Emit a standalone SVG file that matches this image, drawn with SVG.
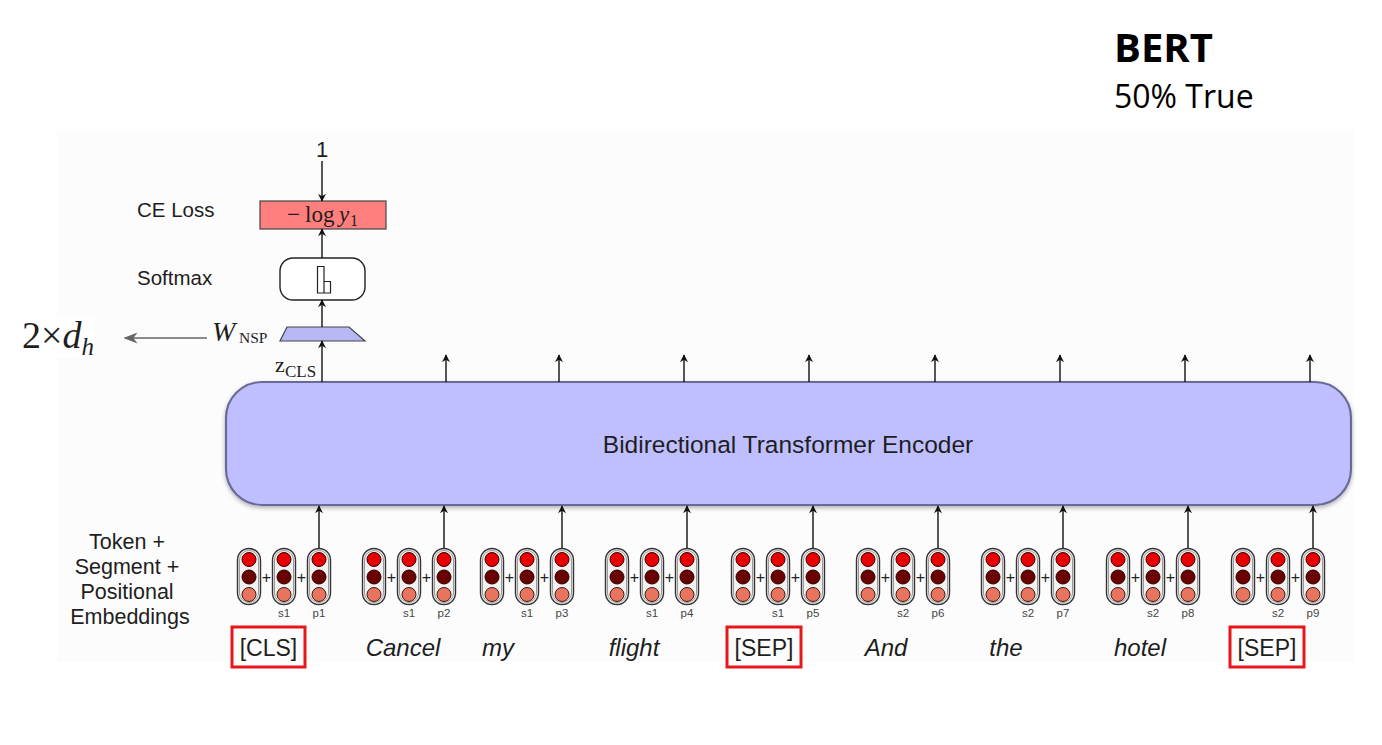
<svg xmlns="http://www.w3.org/2000/svg" xmlns:xlink="http://www.w3.org/1999/xlink" width="1382" height="745" viewBox="0 0 1382 745">
<style>
.sans{font-family:"Liberation Sans",Arial,sans-serif;fill:#1e1e1e}
.serif{font-family:"Liberation Serif","Times New Roman",serif;fill:#1e1e1e}
.lbl{font-size:20.5px}
.word{font-size:24px;font-style:italic;text-anchor:middle}
.tok{font-size:23px;text-anchor:middle}
.sp{font-size:11.5px;fill:#444;text-anchor:middle}
.plus{font-size:16px;text-anchor:middle;fill:#222}
.conn{stroke:#111;stroke-width:1.4;fill:none}
.redbox{fill:none;stroke:#e8161b;stroke-width:3}
.pillbg{fill:#f2f2f2;stroke:#333;stroke-width:1.4}
.pillin{fill:none;stroke:#9a9a9a;stroke-width:1}
.c1{fill:#e60000;stroke:#3a0000;stroke-width:1}
.c2{fill:#6a0000;stroke:#2a0000;stroke-width:1}
.c3{fill:#e8735f;stroke:#3a1a10;stroke-width:1}
</style>
<defs>
<marker id="ah" viewBox="0 0 10 10" refX="9" refY="5" markerWidth="8" markerHeight="8" markerUnits="userSpaceOnUse" orient="auto">
<path d="M0,0 L10,5 L0,10 L3,5 z" fill="#111"/>
</marker>
<marker id="ahg" viewBox="0 0 10 10" refX="9" refY="5" markerWidth="14" markerHeight="14" markerUnits="userSpaceOnUse" orient="auto">
<path d="M0,1 L10,5 L0,9 L3,5 z" fill="#666"/>
</marker>
<filter id="sh" x="-5%" y="-10%" width="110%" height="130%">
<feDropShadow dx="0" dy="2" stdDeviation="2" flood-color="#000" flood-opacity="0.3"/>
</filter>
<g id="pill">
<rect class="pillbg" x="-11.5" y="-28.5" width="23" height="56" rx="11.5"/>
<rect class="pillin" x="-9.5" y="-26.5" width="19" height="52" rx="9.5"/>
<circle class="c1" cx="0" cy="-17.5" r="7"/>
<circle class="c2" cx="0" cy="0" r="7"/>
<circle class="c3" cx="0" cy="17.5" r="7"/>
</g>
<g id="emb">
<use xlink:href="#pill" x="-70" y="0"/>
<use xlink:href="#pill" x="-35" y="0"/>
<use xlink:href="#pill" x="0" y="0"/>
<text class="plus sans" x="-52.5" y="5.5">+</text>
<text class="plus sans" x="-17.5" y="5.5">+</text>
</g>
</defs>

<rect x="0" y="0" width="1382" height="745" fill="#ffffff"/>
<rect id="panel" x="57" y="131" width="1297" height="531" fill="#fcfcfc"/>
<rect x="0" y="317" width="95" height="41" fill="#ffffff"/>

<g id="title">
<text x="1114" y="62" style="font-family:'Open Sans','Liberation Sans',sans-serif;font-weight:bold;font-size:40px" fill="#000">BERT</text>
<text x="1114" y="108" style="font-family:'Open Sans','Liberation Sans',sans-serif;font-size:32px" fill="#000">50% True</text>
</g>

<g id="encoder">
<rect x="226" y="382" width="1125" height="123" rx="36" fill="#bfbfff" stroke="#6b6b98" stroke-width="2.2" filter="url(#sh)"/>
<text class="sans" x="788" y="453" font-size="24.5" text-anchor="middle">Bidirectional Transformer Encoder</text>
</g>

<g id="ce-loss">
<text class="sans lbl" x="137" y="217">CE Loss</text>
<rect x="260" y="201" width="126" height="28" fill="#ff7f7f" stroke="#444" stroke-width="1.2"/>
<text class="serif" y="222" font-size="23"><tspan x="287">−</tspan><tspan x="305">log</tspan><tspan x="339" font-style="italic">y</tspan><tspan x="350" y="226" font-size="16">1</tspan></text>
</g>

<g id="softmax">
<text class="sans lbl" x="137" y="285">Softmax</text>
<rect x="280" y="258" width="85" height="42" rx="13" fill="#ffffff" stroke="#222" stroke-width="1.4"/>
<path d="M317.5,293 V266.5 H324 V293 Z M324,281.5 H330.5 V293 H324" fill="none" stroke="#222" stroke-width="1.2"/>
</g>

<g id="wnsp">
<polygon points="287,327 349,327 365,341 280,341" fill="#b8b8f4" stroke="#444" stroke-width="1.2"/>
<text class="serif" y="341" font-size="28"><tspan x="212" font-style="italic">W</tspan><tspan x="239" y="343" font-size="15.5">NSP</tspan></text>
</g>

<g id="dh">
<text class="serif" y="348" font-size="38"><tspan x="22">2×</tspan><tspan font-style="italic">d</tspan><tspan y="355" font-size="25" font-style="italic">h</tspan></text>
</g>

<g id="zcls">
<text class="serif" y="372" font-size="22"><tspan x="275">z</tspan><tspan x="285" y="377" font-size="17">CLS</tspan></text>
</g>

<g id="target">
<text class="sans" x="322" y="157" font-size="22" text-anchor="middle">1</text>
</g>

<g id="emb-label">
<text class="sans" font-size="21.5" text-anchor="middle">
<tspan x="130" y="549">Token +</tspan>
<tspan x="130" y="574">Segment +</tspan>
<tspan x="130" y="599">Positional</tspan>
<tspan x="130" y="624">Embeddings</tspan>
</text>
</g>

<g id="emb1"><use xlink:href="#emb" x="319" y="577"/><text class="sp sans" x="284" y="617">s1</text><text class="sp sans" x="319" y="617">p1</text></g>
<g id="emb2"><use xlink:href="#emb" x="444" y="577"/><text class="sp sans" x="409" y="617">s1</text><text class="sp sans" x="444" y="617">p2</text></g>
<g id="emb3"><use xlink:href="#emb" x="562" y="577"/><text class="sp sans" x="527" y="617">s1</text><text class="sp sans" x="562" y="617">p3</text></g>
<g id="emb4"><use xlink:href="#emb" x="687" y="577"/><text class="sp sans" x="652" y="617">s1</text><text class="sp sans" x="687" y="617">p4</text></g>
<g id="emb5"><use xlink:href="#emb" x="813" y="577"/><text class="sp sans" x="778" y="617">s1</text><text class="sp sans" x="813" y="617">p5</text></g>
<g id="emb6"><use xlink:href="#emb" x="938" y="577"/><text class="sp sans" x="903" y="617">s2</text><text class="sp sans" x="938" y="617">p6</text></g>
<g id="emb7"><use xlink:href="#emb" x="1063" y="577"/><text class="sp sans" x="1028" y="617">s2</text><text class="sp sans" x="1063" y="617">p7</text></g>
<g id="emb8"><use xlink:href="#emb" x="1188" y="577"/><text class="sp sans" x="1153" y="617">s2</text><text class="sp sans" x="1188" y="617">p8</text></g>
<g id="emb9"><use xlink:href="#emb" x="1313" y="577"/><text class="sp sans" x="1278" y="617">s2</text><text class="sp sans" x="1313" y="617">p9</text></g>

<g id="tokens">
<g id="tok-cls"><rect class="redbox" x="232" y="627" width="73" height="40"/><text class="sans tok" x="268.5" y="656">[CLS]</text></g>
<text class="sans word" x="403" y="656">Cancel</text>
<text class="sans word" x="498" y="656">my</text>
<text class="sans word" x="634" y="656">flight</text>
<g id="tok-sep1"><rect class="redbox" x="727" y="627" width="74" height="40"/><text class="sans tok" x="764" y="656">[SEP]</text></g>
<text class="sans word" x="886" y="656">And</text>
<text class="sans word" x="1006" y="656">the</text>
<text class="sans word" x="1140" y="656">hotel</text>
<g id="tok-sep2"><rect class="redbox" x="1230" y="627" width="74" height="40"/><text class="sans tok" x="1267" y="656">[SEP]</text></g>
</g>

<g id="connectors">
<line class="conn" x1="322" y1="161" x2="322" y2="201" marker-end="url(#ah)"/>
<line class="conn" x1="322" y1="258" x2="322" y2="229" marker-end="url(#ah)"/>
<line class="conn" x1="322" y1="327" x2="322" y2="300" marker-end="url(#ah)"/>
<line class="conn" x1="322" y1="382" x2="322" y2="341" marker-end="url(#ah)"/>
<line x1="207" y1="338" x2="125" y2="338" stroke="#666" stroke-width="1.6" marker-end="url(#ahg)"/>
<line class="conn" x1="446" y1="382" x2="446" y2="355" marker-end="url(#ah)"/>
<line class="conn" x1="559" y1="382" x2="559" y2="355" marker-end="url(#ah)"/>
<line class="conn" x1="684" y1="382" x2="684" y2="355" marker-end="url(#ah)"/>
<line class="conn" x1="809" y1="382" x2="809" y2="355" marker-end="url(#ah)"/>
<line class="conn" x1="935" y1="382" x2="935" y2="355" marker-end="url(#ah)"/>
<line class="conn" x1="1060" y1="382" x2="1060" y2="355" marker-end="url(#ah)"/>
<line class="conn" x1="1185" y1="382" x2="1185" y2="355" marker-end="url(#ah)"/>
<line class="conn" x1="1310" y1="382" x2="1310" y2="355" marker-end="url(#ah)"/>
<line class="conn" x1="319" y1="548" x2="319" y2="506" marker-end="url(#ah)"/>
<line class="conn" x1="444" y1="548" x2="444" y2="506" marker-end="url(#ah)"/>
<line class="conn" x1="562" y1="548" x2="562" y2="506" marker-end="url(#ah)"/>
<line class="conn" x1="687" y1="548" x2="687" y2="506" marker-end="url(#ah)"/>
<line class="conn" x1="813" y1="548" x2="813" y2="506" marker-end="url(#ah)"/>
<line class="conn" x1="938" y1="548" x2="938" y2="506" marker-end="url(#ah)"/>
<line class="conn" x1="1063" y1="548" x2="1063" y2="506" marker-end="url(#ah)"/>
<line class="conn" x1="1188" y1="548" x2="1188" y2="506" marker-end="url(#ah)"/>
<line class="conn" x1="1313" y1="548" x2="1313" y2="506" marker-end="url(#ah)"/>
</g>
</svg>
